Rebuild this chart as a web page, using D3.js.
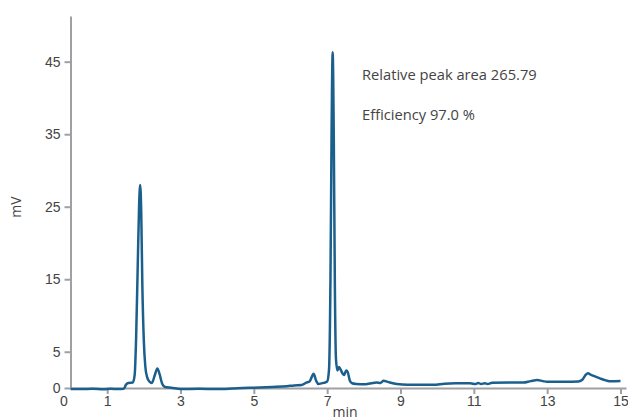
<!DOCTYPE html>
<html>
<head>
<meta charset="utf-8">
<script src="https://cdn.jsdelivr.net/npm/d3@7"></script>
<style>
  body { margin: 0; background: #fff; }
  svg { font-family: "Open Sans", "Noto Sans", sans-serif; }
  .axis path, .axis line { stroke: #a0a0a4; stroke-width: 2; }
  .axis text { fill: #444; font-size: 14px; }
  .label { fill: #444; font-size: 14px; }
  .note { fill: #444; font-size: 14.7px; }
</style>
</head>
<body>
<svg></svg>
<script>
// chromatogram trace (time in min, signal in mV)
var times = [0.0, 0.3, 0.6, 0.9, 1.1, 1.3, 1.45, 1.52, 1.58, 1.7, 1.75, 1.79, 1.83, 1.87, 1.90, 1.93, 1.96, 2.00, 2.04, 2.09,
  2.15, 2.22, 2.30, 2.37, 2.43, 2.50, 2.58, 2.75, 3.0, 3.5, 4.0, 4.4, 4.7, 5.0, 5.5, 5.9, 6.1, 6.3, 6.43, 6.52,
  6.63, 6.7, 6.76, 6.9, 7.0, 7.05, 7.09, 7.12, 7.15, 7.18, 7.21, 7.24, 7.28, 7.32, 7.36, 7.42, 7.46, 7.52, 7.56, 7.62,
  7.68, 7.8, 8.0, 8.2, 8.35, 8.45, 8.54, 8.65, 8.9, 9.2, 9.6, 9.9, 10.2, 10.5, 10.9, 11.05, 11.12, 11.2, 11.3, 11.38,
  11.5, 12.0, 12.35, 12.55, 12.73, 12.88, 13.0, 13.5, 13.85, 13.95, 14.05, 14.11, 14.2, 14.3, 14.45, 14.6, 14.75, 15.0];
var signal = [-0.15, -0.15, -0.12, -0.18, -0.1, -0.15, -0.1, 0.5, 0.7, 0.75, 1.8, 7, 16, 25, 28.0, 24, 14, 6.5, 3, 1.5,
  0.9, 0.7, 1.8, 2.7, 1.9, 0.6, 0.15, 0.05, -0.15, -0.12, -0.15, -0.08, 0.0, 0.05, 0.15, 0.25, 0.35, 0.4, 0.73, 0.9,
  1.95, 1.0, 0.55, 0.7, 0.9, 2.5, 15, 35, 46.3, 35, 14, 4, 2.4, 2.9, 2.6, 2.0, 1.8, 2.4, 2.2, 1.0,
  0.65, 0.55, 0.5, 0.65, 0.75, 0.7, 1.0, 0.85, 0.55, 0.45, 0.45, 0.45, 0.6, 0.65, 0.65, 0.55, 0.7, 0.55, 0.65, 0.55,
  0.72, 0.75, 0.75, 0.95, 1.1, 0.95, 0.85, 0.85, 0.9, 1.1, 1.8, 2.05, 1.8, 1.6, 1.3, 1.05, 0.92, 0.95];

var xTicks = [0, 1, 3, 5, 7, 9, 11, 13, 15];
var yTicks = [0, 5, 15, 25, 35, 45];
var notes = ["Relative peak area 265.79", "Efficiency 97.0 %"];

var width = 628, height = 418;

var data = times.map(function(t, i) { return {t: t, v: signal[i]}; });

var x = d3.scaleLinear().domain([0, 15.15]).range([70.5, 626]);
var y = d3.scaleLinear().domain([0, 51.3]).range([388, 16]);

var svg = d3.select("svg")
  .attr("width", width)
  .attr("height", height);

// x axis
var gx = svg.append("g")
  .attr("class", "axis")
  .attr("transform", "translate(0," + y(0) + ")")
  .call(d3.axisBottom(x).tickValues(xTicks).tickSize(6).tickPadding(2).tickSizeOuter(0));
// the 0 label sits left of the origin
gx.selectAll(".tick").filter(function(d) { return d === 0; })
  .select("text").attr("dx", "-7px");
gx.selectAll(".tick").filter(function(d) { return d === 0; })
  .select("line").remove();

// y axis
var gy = svg.append("g")
  .attr("class", "axis")
  .attr("transform", "translate(" + x(0) + ",0)")
  .call(d3.axisLeft(y).tickValues(yTicks).tickSize(6).tickPadding(4).tickSizeOuter(0));

// axis titles
svg.append("text")
  .attr("class", "label")
  .attr("transform", "translate(21," + 207 + ") rotate(-90)")
  .attr("text-anchor", "middle")
  .text("mV");

svg.append("text")
  .attr("class", "label")
  .attr("x", 345)
  .attr("y", 417)
  .attr("text-anchor", "middle")
  .text("min");

// trace
var line = d3.line()
  .x(function(d) { return x(d.t); })
  .y(function(d) { return y(d.v); })
  .curve(d3.curveMonotoneX);

svg.append("path")
  .attr("d", line(data))
  .attr("fill", "none")
  .attr("stroke", "#1b5f8c")
  .attr("stroke-width", 2.5)
  .attr("stroke-linejoin", "round");

// annotations
svg.selectAll(".note")
  .data(notes)
  .enter().append("text")
  .attr("class", "note")
  .attr("x", 362)
  .attr("y", function(d, i) { return 80 + i * 40; })
  .text(function(d) { return d; });
</script>
</body>
</html>
